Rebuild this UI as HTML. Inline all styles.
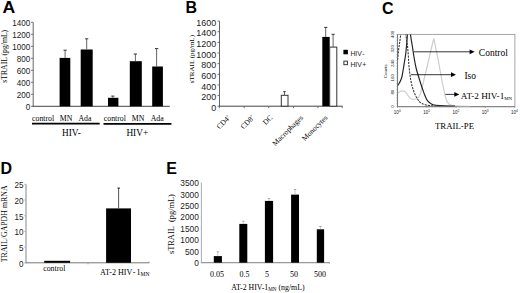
<!DOCTYPE html>
<html><head><meta charset="utf-8"><style>
html,body{margin:0;padding:0;background:#fff;width:520px;height:293px;overflow:hidden;}
svg{display:block;}
</style></head><body>
<svg width="520" height="293" viewBox="0 0 520 293">
<rect width="520" height="293" fill="#fff"/>
<text transform="translate(2.4,13.4) scale(1.1,1)" font-family='"Liberation Sans", sans-serif' font-size="16" font-weight="bold" fill="#000">A</text>
<text transform="translate(185.5,13.3) scale(1.0,1)" font-family='"Liberation Sans", sans-serif' font-size="16" font-weight="bold" fill="#000">B</text>
<text transform="translate(381.9,13.5) scale(1.0,1)" font-family='"Liberation Sans", sans-serif' font-size="16" font-weight="bold" fill="#000">C</text>
<text transform="translate(0.6,174.1) scale(1.0,1)" font-family='"Liberation Sans", sans-serif' font-size="16" font-weight="bold" fill="#000">D</text>
<text transform="translate(166.2,173.5) scale(1.0,1)" font-family='"Liberation Sans", sans-serif' font-size="16" font-weight="bold" fill="#000">E</text>
<line x1="33.20" y1="22.30" x2="33.20" y2="106.80" stroke="#666" stroke-width="1" />
<line x1="32.70" y1="106.30" x2="169.80" y2="106.30" stroke="#444" stroke-width="1" />
<line x1="31.00" y1="106.30" x2="33.20" y2="106.30" stroke="#666" stroke-width="0.9" />
<text transform="translate(30.20,110.20) scale(0.9,1)" font-family='"Liberation Sans", sans-serif' font-size="9" text-anchor="end" fill="#1a1a1a">0</text>
<line x1="31.00" y1="94.30" x2="33.20" y2="94.30" stroke="#666" stroke-width="0.9" />
<text transform="translate(30.20,98.20) scale(0.9,1)" font-family='"Liberation Sans", sans-serif' font-size="9" text-anchor="end" fill="#1a1a1a">200</text>
<line x1="31.00" y1="82.30" x2="33.20" y2="82.30" stroke="#666" stroke-width="0.9" />
<text transform="translate(30.20,86.20) scale(0.9,1)" font-family='"Liberation Sans", sans-serif' font-size="9" text-anchor="end" fill="#1a1a1a">400</text>
<line x1="31.00" y1="70.30" x2="33.20" y2="70.30" stroke="#666" stroke-width="0.9" />
<text transform="translate(30.20,74.20) scale(0.9,1)" font-family='"Liberation Sans", sans-serif' font-size="9" text-anchor="end" fill="#1a1a1a">600</text>
<line x1="31.00" y1="58.30" x2="33.20" y2="58.30" stroke="#666" stroke-width="0.9" />
<text transform="translate(30.20,62.20) scale(0.9,1)" font-family='"Liberation Sans", sans-serif' font-size="9" text-anchor="end" fill="#1a1a1a">800</text>
<line x1="31.00" y1="46.30" x2="33.20" y2="46.30" stroke="#666" stroke-width="0.9" />
<text transform="translate(30.20,50.20) scale(0.9,1)" font-family='"Liberation Sans", sans-serif' font-size="9" text-anchor="end" fill="#1a1a1a">1000</text>
<line x1="31.00" y1="34.30" x2="33.20" y2="34.30" stroke="#666" stroke-width="0.9" />
<text transform="translate(30.20,38.20) scale(0.9,1)" font-family='"Liberation Sans", sans-serif' font-size="9" text-anchor="end" fill="#1a1a1a">1200</text>
<line x1="31.00" y1="22.30" x2="33.20" y2="22.30" stroke="#666" stroke-width="0.9" />
<text transform="translate(30.20,26.20) scale(0.9,1)" font-family='"Liberation Sans", sans-serif' font-size="9" text-anchor="end" fill="#1a1a1a">1400</text>
<rect x="59.60" y="57.90" width="10.70" height="48.40" fill="#000"/>
<line x1="65.10" y1="50.20" x2="65.10" y2="57.90" stroke="#555" stroke-width="0.9" />
<line x1="63.50" y1="50.20" x2="66.70" y2="50.20" stroke="#333" stroke-width="1" />
<rect x="80.70" y="49.50" width="12.00" height="56.80" fill="#000"/>
<line x1="86.70" y1="38.80" x2="86.70" y2="49.50" stroke="#555" stroke-width="0.9" />
<line x1="85.10" y1="38.80" x2="88.30" y2="38.80" stroke="#333" stroke-width="1" />
<rect x="108.00" y="97.80" width="10.40" height="8.50" fill="#000"/>
<line x1="112.80" y1="96.10" x2="112.80" y2="97.80" stroke="#555" stroke-width="0.9" />
<line x1="111.20" y1="96.10" x2="114.40" y2="96.10" stroke="#333" stroke-width="1" />
<rect x="129.80" y="61.20" width="12.00" height="45.10" fill="#000"/>
<line x1="135.40" y1="54.00" x2="135.40" y2="61.20" stroke="#555" stroke-width="0.9" />
<line x1="133.80" y1="54.00" x2="137.00" y2="54.00" stroke="#333" stroke-width="1" />
<rect x="152.20" y="66.50" width="10.70" height="39.80" fill="#000"/>
<line x1="156.60" y1="48.60" x2="156.60" y2="66.50" stroke="#555" stroke-width="0.9" />
<line x1="155.00" y1="48.60" x2="158.20" y2="48.60" stroke="#333" stroke-width="1" />
<text x="43.1" y="120.5" font-family='"Liberation Serif", serif' font-size="7.8" text-anchor="middle" font-weight="normal" fill="#000" >control</text>
<text x="66" y="120.5" font-family='"Liberation Serif", serif' font-size="7.8" text-anchor="middle" font-weight="normal" fill="#000" >MN</text>
<text x="84.9" y="120.5" font-family='"Liberation Serif", serif' font-size="7.8" text-anchor="middle" font-weight="normal" fill="#000" >Ada</text>
<text x="114.85" y="120.5" font-family='"Liberation Serif", serif' font-size="7.8" text-anchor="middle" font-weight="normal" fill="#000" >control</text>
<text x="138" y="120.5" font-family='"Liberation Serif", serif' font-size="7.8" text-anchor="middle" font-weight="normal" fill="#000" >MN</text>
<text x="157.2" y="120.5" font-family='"Liberation Serif", serif' font-size="7.8" text-anchor="middle" font-weight="normal" fill="#000" >Ada</text>
<line x1="32.00" y1="123.70" x2="99.70" y2="123.70" stroke="#000" stroke-width="1.7" />
<line x1="103.50" y1="123.80" x2="171.40" y2="123.80" stroke="#000" stroke-width="1.7" />
<text x="71.4" y="136.1" font-family='"Liberation Serif", serif' font-size="9.3" text-anchor="middle" font-weight="normal" fill="#000" >HIV-</text>
<text x="137.3" y="136.1" font-family='"Liberation Serif", serif' font-size="9.3" text-anchor="middle" font-weight="normal" fill="#000" >HIV+</text>
<text x="0" y="0" font-family='"Liberation Serif", serif' font-size="7.7" text-anchor="middle" font-weight="normal" fill="#000" transform="translate(6.9,56.3) rotate(-90)">sTRAIL (pg/mL)</text>
<line x1="219.50" y1="21.10" x2="219.50" y2="106.70" stroke="#666" stroke-width="1" />
<line x1="219.00" y1="106.20" x2="342.70" y2="106.20" stroke="#444" stroke-width="1" />
<line x1="217.50" y1="106.20" x2="219.50" y2="106.20" stroke="#666" stroke-width="0.9" />
<text transform="translate(216.10,110.80) scale(0.95,1)" font-family='"Liberation Sans", sans-serif' font-size="9.4" text-anchor="end" fill="#1a1a1a">0</text>
<line x1="217.50" y1="95.56" x2="219.50" y2="95.56" stroke="#666" stroke-width="0.9" />
<text transform="translate(216.10,100.16) scale(0.95,1)" font-family='"Liberation Sans", sans-serif' font-size="9.4" text-anchor="end" fill="#1a1a1a">200</text>
<line x1="217.50" y1="84.93" x2="219.50" y2="84.93" stroke="#666" stroke-width="0.9" />
<text transform="translate(216.10,89.53) scale(0.95,1)" font-family='"Liberation Sans", sans-serif' font-size="9.4" text-anchor="end" fill="#1a1a1a">400</text>
<line x1="217.50" y1="74.29" x2="219.50" y2="74.29" stroke="#666" stroke-width="0.9" />
<text transform="translate(216.10,78.89) scale(0.95,1)" font-family='"Liberation Sans", sans-serif' font-size="9.4" text-anchor="end" fill="#1a1a1a">600</text>
<line x1="217.50" y1="63.65" x2="219.50" y2="63.65" stroke="#666" stroke-width="0.9" />
<text transform="translate(216.10,68.25) scale(0.95,1)" font-family='"Liberation Sans", sans-serif' font-size="9.4" text-anchor="end" fill="#1a1a1a">800</text>
<line x1="217.50" y1="53.01" x2="219.50" y2="53.01" stroke="#666" stroke-width="0.9" />
<text transform="translate(216.10,57.61) scale(0.95,1)" font-family='"Liberation Sans", sans-serif' font-size="9.4" text-anchor="end" fill="#1a1a1a">1000</text>
<line x1="217.50" y1="42.38" x2="219.50" y2="42.38" stroke="#666" stroke-width="0.9" />
<text transform="translate(216.10,46.98) scale(0.95,1)" font-family='"Liberation Sans", sans-serif' font-size="9.4" text-anchor="end" fill="#1a1a1a">1200</text>
<line x1="217.50" y1="31.74" x2="219.50" y2="31.74" stroke="#666" stroke-width="0.9" />
<text transform="translate(216.10,36.34) scale(0.95,1)" font-family='"Liberation Sans", sans-serif' font-size="9.4" text-anchor="end" fill="#1a1a1a">1400</text>
<line x1="217.50" y1="21.10" x2="219.50" y2="21.10" stroke="#666" stroke-width="0.9" />
<text transform="translate(216.10,25.70) scale(0.95,1)" font-family='"Liberation Sans", sans-serif' font-size="9.4" text-anchor="end" fill="#1a1a1a">1600</text>
<line x1="219.40" y1="106.20" x2="219.40" y2="108.20" stroke="#666" stroke-width="0.9" />
<line x1="244.20" y1="106.20" x2="244.20" y2="108.20" stroke="#666" stroke-width="0.9" />
<line x1="268.70" y1="106.20" x2="268.70" y2="108.20" stroke="#666" stroke-width="0.9" />
<line x1="293.50" y1="106.20" x2="293.50" y2="108.20" stroke="#666" stroke-width="0.9" />
<line x1="317.90" y1="106.20" x2="317.90" y2="108.20" stroke="#666" stroke-width="0.9" />
<line x1="342.20" y1="106.20" x2="342.20" y2="108.20" stroke="#666" stroke-width="0.9" />
<rect x="281.30" y="95.30" width="6.70" height="10.90" fill="#fff" stroke="#333" stroke-width="1"/>
<line x1="284.50" y1="91.70" x2="284.50" y2="95.30" stroke="#555" stroke-width="0.9" />
<line x1="283.30" y1="91.70" x2="285.80" y2="91.70" stroke="#333" stroke-width="1" />
<rect x="322.30" y="36.90" width="7.40" height="69.30" fill="#000"/>
<line x1="325.70" y1="27.40" x2="325.70" y2="36.90" stroke="#555" stroke-width="0.9" />
<line x1="324.20" y1="27.40" x2="327.40" y2="27.40" stroke="#333" stroke-width="1" />
<rect x="329.70" y="47.10" width="7.10" height="59.10" fill="#fff" stroke="#333" stroke-width="1"/>
<line x1="333.10" y1="34.30" x2="333.10" y2="47.10" stroke="#555" stroke-width="0.9" />
<line x1="331.50" y1="34.30" x2="334.70" y2="34.30" stroke="#333" stroke-width="1" />
<rect x="343.40" y="49.80" width="4.50" height="4.50" fill="#000"/>
<text transform="translate(350.4,55.6) scale(0.88,1)" font-family='"Liberation Sans", sans-serif' font-size="7.8" fill="#1a1a1a">HIV<tspan dx="0.6">-</tspan></text>
<rect x="343.90" y="61.10" width="3.50" height="3.60" fill="#fff" stroke="#222" stroke-width="0.9"/>
<text transform="translate(350.4,66.5) scale(0.88,1)" font-family='"Liberation Sans", sans-serif' font-size="7.8" fill="#1a1a1a">HIV<tspan dx="0.6">+</tspan></text>
<text x="0" y="0" font-family='"Liberation Serif", serif' font-size="7.4" text-anchor="end" font-weight="normal" fill="#000" transform="translate(230.9,118.1) rotate(-45)">CD4<tspan font-size="4" dy="-3">+</tspan></text>
<text x="0" y="0" font-family='"Liberation Serif", serif' font-size="7.4" text-anchor="end" font-weight="normal" fill="#000" transform="translate(254.9,118.1) rotate(-45)">CD8<tspan font-size="4" dy="-3">+</tspan></text>
<text x="0" y="0" font-family='"Liberation Serif", serif' font-size="7.4" text-anchor="end" font-weight="normal" fill="#000" transform="translate(272.9,118.1) rotate(-45)">DC</text>
<text x="0" y="0" font-family='"Liberation Serif", serif' font-size="7.4" text-anchor="end" font-weight="normal" fill="#000" transform="translate(303.5,118.1) rotate(-45)">Macrophages</text>
<text x="0" y="0" font-family='"Liberation Serif", serif' font-size="7.4" text-anchor="end" font-weight="normal" fill="#000" transform="translate(328,118.1) rotate(-45)">Monocytes</text>
<text x="0" y="0" font-family='"Liberation Serif", serif' font-size="7.0" text-anchor="middle" font-weight="normal" fill="#000" transform="translate(194.3,59.1) rotate(-90)">sTRAIL (pg/mL)</text>
<rect x="397.5" y="34.4" width="117.40" height="72.20" fill="none" stroke="#9a9a9a" stroke-width="0.9"/>
<line x1="397.50" y1="34.40" x2="397.50" y2="106.60" stroke="#777" stroke-width="1.1" />
<line x1="397.50" y1="106.60" x2="514.90" y2="106.60" stroke="#888" stroke-width="1.3" />
<text x="0" y="0" font-family='"Liberation Sans", sans-serif' font-size="4.4" text-anchor="middle" font-weight="normal" fill="#222" transform="translate(393.6,106.60) rotate(-90)">0</text>
<text x="0" y="0" font-family='"Liberation Sans", sans-serif' font-size="4.4" text-anchor="middle" font-weight="normal" fill="#222" transform="translate(393.6,92.16) rotate(-90)">80</text>
<text x="0" y="0" font-family='"Liberation Sans", sans-serif' font-size="4.4" text-anchor="middle" font-weight="normal" fill="#222" transform="translate(393.6,77.72) rotate(-90)">160</text>
<text x="0" y="0" font-family='"Liberation Sans", sans-serif' font-size="4.4" text-anchor="middle" font-weight="normal" fill="#222" transform="translate(393.6,63.28) rotate(-90)">240</text>
<text x="0" y="0" font-family='"Liberation Sans", sans-serif' font-size="4.4" text-anchor="middle" font-weight="normal" fill="#222" transform="translate(393.6,48.84) rotate(-90)">320</text>
<text x="0" y="0" font-family='"Liberation Sans", sans-serif' font-size="4.4" text-anchor="middle" font-weight="normal" fill="#222" transform="translate(393.6,34.40) rotate(-90)">400</text>
<line x1="396.30" y1="106.60" x2="397.50" y2="106.60" stroke="#888" stroke-width="0.5" />
<line x1="396.30" y1="103.71" x2="397.50" y2="103.71" stroke="#888" stroke-width="0.5" />
<line x1="396.30" y1="100.82" x2="397.50" y2="100.82" stroke="#888" stroke-width="0.5" />
<line x1="396.30" y1="97.94" x2="397.50" y2="97.94" stroke="#888" stroke-width="0.5" />
<line x1="396.30" y1="95.05" x2="397.50" y2="95.05" stroke="#888" stroke-width="0.5" />
<line x1="396.30" y1="92.16" x2="397.50" y2="92.16" stroke="#888" stroke-width="0.5" />
<line x1="396.30" y1="89.27" x2="397.50" y2="89.27" stroke="#888" stroke-width="0.5" />
<line x1="396.30" y1="86.38" x2="397.50" y2="86.38" stroke="#888" stroke-width="0.5" />
<line x1="396.30" y1="83.50" x2="397.50" y2="83.50" stroke="#888" stroke-width="0.5" />
<line x1="396.30" y1="80.61" x2="397.50" y2="80.61" stroke="#888" stroke-width="0.5" />
<line x1="396.30" y1="77.72" x2="397.50" y2="77.72" stroke="#888" stroke-width="0.5" />
<line x1="396.30" y1="74.83" x2="397.50" y2="74.83" stroke="#888" stroke-width="0.5" />
<line x1="396.30" y1="71.94" x2="397.50" y2="71.94" stroke="#888" stroke-width="0.5" />
<line x1="396.30" y1="69.06" x2="397.50" y2="69.06" stroke="#888" stroke-width="0.5" />
<line x1="396.30" y1="66.17" x2="397.50" y2="66.17" stroke="#888" stroke-width="0.5" />
<line x1="396.30" y1="63.28" x2="397.50" y2="63.28" stroke="#888" stroke-width="0.5" />
<line x1="396.30" y1="60.39" x2="397.50" y2="60.39" stroke="#888" stroke-width="0.5" />
<line x1="396.30" y1="57.50" x2="397.50" y2="57.50" stroke="#888" stroke-width="0.5" />
<line x1="396.30" y1="54.62" x2="397.50" y2="54.62" stroke="#888" stroke-width="0.5" />
<line x1="396.30" y1="51.73" x2="397.50" y2="51.73" stroke="#888" stroke-width="0.5" />
<line x1="396.30" y1="48.84" x2="397.50" y2="48.84" stroke="#888" stroke-width="0.5" />
<line x1="396.30" y1="45.95" x2="397.50" y2="45.95" stroke="#888" stroke-width="0.5" />
<line x1="396.30" y1="43.06" x2="397.50" y2="43.06" stroke="#888" stroke-width="0.5" />
<line x1="396.30" y1="40.18" x2="397.50" y2="40.18" stroke="#888" stroke-width="0.5" />
<line x1="396.30" y1="37.29" x2="397.50" y2="37.29" stroke="#888" stroke-width="0.5" />
<line x1="396.30" y1="34.40" x2="397.50" y2="34.40" stroke="#888" stroke-width="0.5" />
<text x="397.3" y="114.3" font-family='"Liberation Sans", sans-serif' font-size="4.5" text-anchor="middle" font-weight="normal" fill="#222" >10<tspan font-size="3.3" dy="-2">0</tspan></text>
<line x1="397.50" y1="106.60" x2="397.50" y2="107.80" stroke="#777" stroke-width="0.6" />
<text x="426.6" y="114.3" font-family='"Liberation Sans", sans-serif' font-size="4.5" text-anchor="middle" font-weight="normal" fill="#222" >10<tspan font-size="3.3" dy="-2">1</tspan></text>
<line x1="426.80" y1="106.60" x2="426.80" y2="107.80" stroke="#777" stroke-width="0.6" />
<text x="455.9" y="114.3" font-family='"Liberation Sans", sans-serif' font-size="4.5" text-anchor="middle" font-weight="normal" fill="#222" >10<tspan font-size="3.3" dy="-2">2</tspan></text>
<line x1="456.10" y1="106.60" x2="456.10" y2="107.80" stroke="#777" stroke-width="0.6" />
<text x="485.2" y="114.3" font-family='"Liberation Sans", sans-serif' font-size="4.5" text-anchor="middle" font-weight="normal" fill="#222" >10<tspan font-size="3.3" dy="-2">3</tspan></text>
<line x1="485.40" y1="106.60" x2="485.40" y2="107.80" stroke="#777" stroke-width="0.6" />
<text x="514.5" y="114.3" font-family='"Liberation Sans", sans-serif' font-size="4.5" text-anchor="middle" font-weight="normal" fill="#222" >10<tspan font-size="3.3" dy="-2">4</tspan></text>
<line x1="514.70" y1="106.60" x2="514.70" y2="107.80" stroke="#777" stroke-width="0.6" />
<text x="0" y="0" font-family='"Liberation Sans", sans-serif' font-size="4.4" text-anchor="middle" font-weight="normal" fill="#222" transform="translate(386.6,71.2) rotate(-90)">Counts</text>
<text x="454.5" y="129.3" font-family='"Liberation Serif", serif' font-size="8.8" text-anchor="middle" font-weight="normal" fill="#000" >TRAIL-PE</text>
<clipPath id="cc"><rect x="397.5" y="34.4" width="118" height="72.2"/></clipPath>
<g clip-path="url(#cc)">
<path d="M397.60,93.50 C397.83,93.30 398.23,92.75 399.00,92.30 C399.77,91.85 401.17,90.88 402.20,90.80 C403.23,90.72 404.18,90.95 405.20,91.80 C406.22,92.65 407.27,94.70 408.30,95.90 C409.33,97.10 410.20,98.48 411.40,99.00 C412.60,99.52 414.32,99.27 415.50,99.00 C416.68,98.73 417.67,98.32 418.50,97.40 C419.33,96.48 419.88,95.23 420.50,93.50 C421.12,91.77 421.65,89.17 422.20,87.00 C422.75,84.83 423.25,82.83 423.80,80.50 C424.35,78.17 424.92,75.42 425.50,73.00 C426.08,70.58 426.47,69.50 427.30,66.00 C428.13,62.50 429.42,56.62 430.50,52.00 C431.58,47.38 433.25,40.58 433.80,38.30 L433.80,38.30 C434.27,40.58 435.68,47.38 436.60,52.00 C437.52,56.62 438.48,61.67 439.30,66.00 C440.12,70.33 440.80,74.33 441.50,78.00 C442.20,81.67 442.87,85.00 443.50,88.00 C444.13,91.00 444.72,93.80 445.30,96.00 C445.88,98.20 446.30,99.78 447.00,101.20 C447.70,102.62 448.17,103.72 449.50,104.50 C450.83,105.28 451.58,105.60 455.00,105.90 C458.42,106.20 467.50,106.23 470.00,106.30" fill="none" stroke="#cdcdcd" stroke-width="1.2" stroke-linejoin="miter"/>
<path d="M397.60,85.50 C397.83,85.17 398.50,84.33 399.00,83.50 C399.50,82.67 400.10,81.67 400.60,80.50 C401.10,79.33 401.55,78.42 402.00,76.50 C402.45,74.58 402.87,71.58 403.30,69.00 C403.73,66.42 404.20,63.50 404.60,61.00 C405.00,58.50 405.37,56.67 405.70,54.00 C406.03,51.33 406.33,48.00 406.60,45.00 C406.87,42.00 407.13,38.50 407.30,36.00 C407.47,33.50 407.55,31.00 407.60,30.00 M410.30,30.00 C410.37,31.00 410.37,33.33 410.70,36.00 C411.03,38.67 411.77,42.58 412.30,46.00 C412.83,49.42 413.27,52.83 413.90,56.50 C414.53,60.17 415.35,64.75 416.10,68.00 C416.85,71.25 417.63,73.42 418.40,76.00 C419.17,78.58 419.98,81.25 420.70,83.50 C421.42,85.75 422.03,87.58 422.70,89.50 C423.37,91.42 424.02,93.32 424.70,95.00 C425.38,96.68 426.07,98.38 426.80,99.60 C427.53,100.82 428.03,101.43 429.10,102.30 C430.17,103.17 431.38,104.23 433.20,104.80 C435.02,105.37 436.37,105.48 440.00,105.70 C443.63,105.92 452.50,106.03 455.00,106.10" fill="none" stroke="#262626" stroke-width="1.2"/>
<path d="M397.60,60.00 C397.77,58.33 398.22,53.17 398.60,50.00 C398.98,46.83 399.52,43.83 399.90,41.00 C400.28,38.17 400.67,34.83 400.90,33.00 C401.13,31.17 401.23,30.50 401.30,30.00 M405.30,30.00 C405.47,31.33 405.93,35.33 406.30,38.00 C406.67,40.67 407.17,43.17 407.50,46.00 C407.83,48.83 408.08,52.00 408.30,55.00 C408.52,58.00 408.58,61.17 408.80,64.00 C409.02,66.83 409.30,69.50 409.60,72.00 C409.90,74.50 410.23,76.83 410.60,79.00 C410.97,81.17 411.32,83.08 411.80,85.00 C412.28,86.92 412.88,88.77 413.50,90.50 C414.12,92.23 414.83,93.98 415.50,95.40 C416.17,96.82 416.82,97.93 417.50,99.00 C418.18,100.07 418.85,101.05 419.60,101.80 C420.35,102.55 421.15,103.03 422.00,103.50 C422.85,103.97 423.37,104.25 424.70,104.60 C426.03,104.95 427.45,105.37 430.00,105.60 C432.55,105.83 438.33,105.93 440.00,106.00" fill="none" stroke="#333" stroke-width="1.05" stroke-dasharray="2.2,1"/>
</g>
<line x1="413.80" y1="51.80" x2="470.60" y2="51.80" stroke="#000" stroke-width="0.8" />
<path d="M469.60,49.40 L474.60,51.80 L469.60,54.20 Z" fill="#000"/>
<line x1="411.00" y1="74.70" x2="452.00" y2="74.70" stroke="#000" stroke-width="0.8" />
<path d="M451.00,72.30 L456.00,74.70 L451.00,77.10 Z" fill="#000"/>
<line x1="445.40" y1="94.40" x2="455.30" y2="94.40" stroke="#000" stroke-width="0.8" />
<path d="M454.30,92.00 L459.30,94.40 L454.30,96.80 Z" fill="#000"/>
<text x="478.8" y="55.7" font-family='"Liberation Serif", serif' font-size="9.5" text-anchor="start" font-weight="normal" fill="#000" >Control</text>
<text x="464.4" y="78.9" font-family='"Liberation Serif", serif' font-size="9.5" text-anchor="start" font-weight="normal" fill="#000" >Iso</text>
<text x="460.8" y="98.5" font-family='"Liberation Serif", serif' font-size="9.2" text-anchor="start" font-weight="normal" fill="#000" >AT-2 HIV-1<tspan font-size="4.8" dy="1">MN</tspan></text>
<line x1="26.00" y1="184.30" x2="26.00" y2="263.30" stroke="#888" stroke-width="1" />
<line x1="25.50" y1="262.80" x2="149.30" y2="262.80" stroke="#777" stroke-width="1" />
<line x1="24.20" y1="262.80" x2="26.00" y2="262.80" stroke="#aaa" stroke-width="0.8" />
<text transform="translate(23.40,266.70) scale(0.9,1)" font-family='"Liberation Sans", sans-serif' font-size="9" text-anchor="end" fill="#1a1a1a">0</text>
<line x1="24.20" y1="247.10" x2="26.00" y2="247.10" stroke="#aaa" stroke-width="0.8" />
<text transform="translate(23.40,251.00) scale(0.9,1)" font-family='"Liberation Sans", sans-serif' font-size="9" text-anchor="end" fill="#1a1a1a">5</text>
<line x1="24.20" y1="231.40" x2="26.00" y2="231.40" stroke="#aaa" stroke-width="0.8" />
<text transform="translate(23.40,235.30) scale(0.9,1)" font-family='"Liberation Sans", sans-serif' font-size="9" text-anchor="end" fill="#1a1a1a">10</text>
<line x1="24.20" y1="215.70" x2="26.00" y2="215.70" stroke="#aaa" stroke-width="0.8" />
<text transform="translate(23.40,219.60) scale(0.9,1)" font-family='"Liberation Sans", sans-serif' font-size="9" text-anchor="end" fill="#1a1a1a">15</text>
<line x1="24.20" y1="200.00" x2="26.00" y2="200.00" stroke="#aaa" stroke-width="0.8" />
<text transform="translate(23.40,203.90) scale(0.9,1)" font-family='"Liberation Sans", sans-serif' font-size="9" text-anchor="end" fill="#1a1a1a">20</text>
<line x1="24.20" y1="184.30" x2="26.00" y2="184.30" stroke="#aaa" stroke-width="0.8" />
<text transform="translate(23.40,188.20) scale(0.9,1)" font-family='"Liberation Sans", sans-serif' font-size="9" text-anchor="end" fill="#1a1a1a">25</text>
<line x1="88.00" y1="262.80" x2="88.00" y2="264.30" stroke="#999" stroke-width="0.8" />
<line x1="149.00" y1="261.30" x2="149.00" y2="262.80" stroke="#999" stroke-width="0.8" />
<rect x="44.20" y="260.80" width="25.90" height="2.00" fill="#000"/>
<rect x="106.10" y="208.40" width="24.90" height="54.40" fill="#000"/>
<line x1="118.60" y1="188.10" x2="118.60" y2="208.40" stroke="#444" stroke-width="0.9" />
<line x1="117.50" y1="188.10" x2="119.90" y2="188.10" stroke="#222" stroke-width="1.1" />
<text x="54.3" y="271.2" font-family='"Liberation Serif", serif' font-size="7.8" text-anchor="middle" font-weight="normal" fill="#000" >control</text>
<text x="100.1" y="274.8" font-family='"Liberation Serif", serif' font-size="8.1" text-anchor="start" font-weight="normal" fill="#000" >AT-2 HIV<tspan dx="1.1">-</tspan><tspan dx="1.1">1</tspan><tspan font-size="5.5" dy="1">MN</tspan></text>
<text x="0" y="0" font-family='"Liberation Serif", serif' font-size="7.85" text-anchor="middle" font-weight="normal" fill="#000" transform="translate(7.3,223.9) rotate(-90)">TRAIL<tspan fill="#bbb">/</tspan>GAPDH mRNA</text>
<line x1="201.40" y1="182.80" x2="201.40" y2="263.20" stroke="#aaa" stroke-width="1" />
<line x1="200.90" y1="262.70" x2="329.80" y2="262.70" stroke="#999" stroke-width="1.2" />
<line x1="329.50" y1="262.70" x2="329.50" y2="264.00" stroke="#aaa" stroke-width="0.8" />
<line x1="199.90" y1="262.70" x2="201.40" y2="262.70" stroke="#ddd" stroke-width="0.8" />
<text transform="translate(198.90,266.00) scale(0.97,1)" font-family='"Liberation Sans", sans-serif' font-size="8.6" text-anchor="end" fill="#222">0</text>
<line x1="199.90" y1="251.29" x2="201.40" y2="251.29" stroke="#ddd" stroke-width="0.8" />
<text transform="translate(198.90,254.59) scale(0.97,1)" font-family='"Liberation Sans", sans-serif' font-size="8.6" text-anchor="end" fill="#222">500</text>
<line x1="199.90" y1="239.87" x2="201.40" y2="239.87" stroke="#ddd" stroke-width="0.8" />
<text transform="translate(198.90,243.17) scale(0.97,1)" font-family='"Liberation Sans", sans-serif' font-size="8.6" text-anchor="end" fill="#222">1000</text>
<line x1="199.90" y1="228.46" x2="201.40" y2="228.46" stroke="#ddd" stroke-width="0.8" />
<text transform="translate(198.90,231.76) scale(0.97,1)" font-family='"Liberation Sans", sans-serif' font-size="8.6" text-anchor="end" fill="#222">1500</text>
<line x1="199.90" y1="217.04" x2="201.40" y2="217.04" stroke="#ddd" stroke-width="0.8" />
<text transform="translate(198.90,220.34) scale(0.97,1)" font-family='"Liberation Sans", sans-serif' font-size="8.6" text-anchor="end" fill="#222">2000</text>
<line x1="199.90" y1="205.63" x2="201.40" y2="205.63" stroke="#ddd" stroke-width="0.8" />
<text transform="translate(198.90,208.93) scale(0.97,1)" font-family='"Liberation Sans", sans-serif' font-size="8.6" text-anchor="end" fill="#222">2500</text>
<line x1="199.90" y1="194.21" x2="201.40" y2="194.21" stroke="#ddd" stroke-width="0.8" />
<text transform="translate(198.90,197.51) scale(0.97,1)" font-family='"Liberation Sans", sans-serif' font-size="8.6" text-anchor="end" fill="#222">3000</text>
<line x1="199.90" y1="182.80" x2="201.40" y2="182.80" stroke="#ddd" stroke-width="0.8" />
<text transform="translate(198.90,186.10) scale(0.97,1)" font-family='"Liberation Sans", sans-serif' font-size="8.6" text-anchor="end" fill="#222">3500</text>
<rect x="213.80" y="256.10" width="8.10" height="6.60" fill="#000"/>
<line x1="217.85" y1="251.80" x2="217.85" y2="256.10" stroke="#bbb" stroke-width="0.8" />
<line x1="216.65" y1="251.80" x2="219.05" y2="251.80" stroke="#aaa" stroke-width="1" />
<rect x="239.30" y="223.90" width="8.00" height="38.80" fill="#000"/>
<line x1="243.30" y1="221.20" x2="243.30" y2="223.90" stroke="#bbb" stroke-width="0.8" />
<line x1="242.10" y1="221.20" x2="244.50" y2="221.20" stroke="#aaa" stroke-width="1" />
<rect x="264.90" y="200.90" width="8.20" height="61.80" fill="#000"/>
<line x1="269.00" y1="198.50" x2="269.00" y2="200.90" stroke="#bbb" stroke-width="0.8" />
<line x1="267.80" y1="198.50" x2="270.20" y2="198.50" stroke="#aaa" stroke-width="1" />
<rect x="291.10" y="194.60" width="7.90" height="68.10" fill="#000"/>
<line x1="295.05" y1="189.50" x2="295.05" y2="194.60" stroke="#bbb" stroke-width="0.8" />
<line x1="293.85" y1="189.50" x2="296.25" y2="189.50" stroke="#aaa" stroke-width="1" />
<rect x="316.80" y="229.30" width="7.30" height="33.40" fill="#000"/>
<line x1="320.45" y1="226.50" x2="320.45" y2="229.30" stroke="#bbb" stroke-width="0.8" />
<line x1="319.25" y1="226.50" x2="321.65" y2="226.50" stroke="#aaa" stroke-width="1" />
<text x="217" y="276.6" font-family='"Liberation Serif", serif' font-size="8" text-anchor="middle" font-weight="normal" fill="#000" >0.05</text>
<text x="244.6" y="276.6" font-family='"Liberation Serif", serif' font-size="8" text-anchor="middle" font-weight="normal" fill="#000" >0.5</text>
<text x="267.1" y="276.6" font-family='"Liberation Serif", serif' font-size="8" text-anchor="middle" font-weight="normal" fill="#000" >5</text>
<text x="294" y="276.6" font-family='"Liberation Serif", serif' font-size="8" text-anchor="middle" font-weight="normal" fill="#000" >50</text>
<text x="320" y="276.6" font-family='"Liberation Serif", serif' font-size="8" text-anchor="middle" font-weight="normal" fill="#000" >500</text>
<text x="267.9" y="290" font-family='"Liberation Serif", serif' font-size="7.85" text-anchor="middle" font-weight="normal" fill="#000" >AT-2 HIV-1<tspan font-size="5.1" dy="1.2">MN</tspan><tspan dy="-1.2"> (ng/mL)</tspan></text>
<text x="0" y="0" font-family='"Liberation Serif", serif' font-size="8.4" text-anchor="middle" font-weight="normal" fill="#000" transform="translate(173.5,224.1) rotate(-90)">sTRAIL&#160;&#160;(pg/mL)</text>
</svg>
</body></html>
